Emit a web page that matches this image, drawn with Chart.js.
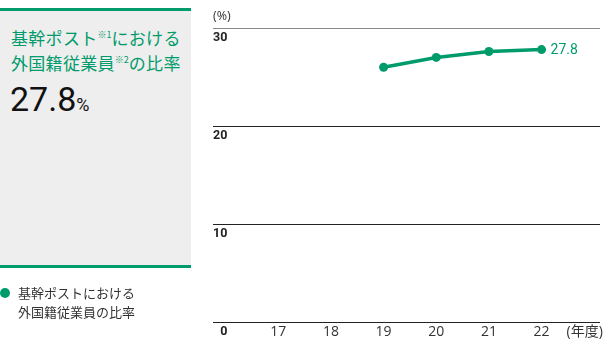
<!DOCTYPE html>
<html>
<head>
<meta charset="utf-8">
<script src="https://cdn.jsdelivr.net/npm/chart.js@4.4.0/dist/chart.umd.min.js"></script>
<style>
  html, body { margin: 0; padding: 0; background: #fff; }
  body { width: 614px; height: 342px; position: relative; overflow: hidden;
         font-family: "Noto Sans CJK JP", "Noto Sans", sans-serif; }
  #chart { position: absolute; left: 0; top: 0; }
  .panel { position: absolute; left: 0; top: 8px; width: 191px; height: 260px;
           background: #eeeeee; border-top: 3.5px solid #009b6b; border-bottom: 3.5px solid #009b6b;
           box-sizing: border-box; }
  .ttl { position: absolute; left: 11px; color: #009b6b; font-size: 17px; line-height: 20px;
         white-space: nowrap; letter-spacing: 0.3px; }
  .ttl sup { font-size: 9px; line-height: 0; vertical-align: 0; position: relative; top: -7px; letter-spacing: 0; }
  .big { position: absolute; left: 10px; top: 79px; color: #111; font-family: Roboto, sans-serif;
         font-size: 34px; line-height: 40px; white-space: nowrap; }
  .big span { font-size: 18px; }
  .legend { position: absolute; left: 0; top: 284px; font-size: 13px; line-height: 18.5px; color: #333; }
  .legend .dot { position: absolute; left: 0; top: 4px; width: 10px; height: 10px; border-radius: 50%;
                 background: #009b6b; }
  .legend .txt { position: absolute; left: 18px; top: 0; white-space: nowrap; }
  .unit { position: absolute; left: 213px; top: 7px; font-size: 12.5px; color: #333;
          font-family: "Open Sans", sans-serif; }
</style>
</head>
<body>
<canvas id="chart" width="614" height="342"></canvas>
<div class="panel"></div>
<div class="ttl" style="top:28px">基幹ポスト<sup>※1</sup>における</div>
<div class="ttl" style="top:53px">外国籍従業員<sup>※2</sup>の比率</div>
<div class="big">27.8<span>%</span></div>
<div class="legend"><div class="dot"></div><div class="txt">基幹ポストにおける<br>外国籍従業員の比率</div></div>
<div class="unit">(%)</div>
<script>
const years = [17, 18, 19, 20, 21, 22];
const yearLabels = ['17', '18', '19', '20', '21', '22'];
const rates = [null, null, 26.0, 27.0, 27.6, 27.8];
const yTicks = [0, 10, 20, 30];
const xUnitLabel = '(年度)';
const xUnitPos = 22.82;

const green = '#009b6b';

// value label next to the last point
const endLabel = {
  id: 'endLabel',
  afterDatasetsDraw(chart) {
    const meta = chart.getDatasetMeta(0);
    const i = rates.length - 1;
    const pt = meta.data[i];
    const c = chart.ctx;
    c.save();
    c.fillStyle = green;
    c.font = '14px Roboto, sans-serif';
    c.textAlign = 'left';
    c.textBaseline = 'middle';
    c.fillText(rates[i].toFixed(1), pt.x + 9, pt.y + 1);
    c.restore();
  }
};

new Chart(document.getElementById('chart').getContext('2d'), {
  type: 'line',
  data: {
    datasets: [{
      data: years.map((y, i) => ({ x: y, y: rates[i] })),
      borderColor: green,
      backgroundColor: green,
      borderWidth: 3.5,
      pointRadius: 4.5,
      pointHoverRadius: 4.5,
      pointBackgroundColor: green,
      pointBorderWidth: 0,
      spanGaps: false,
      tension: 0
    }]
  },
  options: {
    responsive: false,
    animation: false,
    devicePixelRatio: 1,
    layout: { padding: { left: 213, right: 14, top: 28, bottom: 1 } },
    plugins: { legend: { display: false }, tooltip: { enabled: false }, title: { display: false } },
    scales: {
      x: {
        type: 'linear',
        min: 15.76,
        max: 23.11,
        grid: { display: false, drawTicks: false },
        border: { display: false },
        afterBuildTicks: (axis) => {
          axis.ticks = years.map(v => ({ value: v })).concat([{ value: xUnitPos }]);
        },
        ticks: {
          autoSkip: false,
          maxRotation: 0,
          padding: 1,
          color: '#333',
          font: { family: '"Open Sans", "Noto Sans CJK JP", sans-serif', size: 14 },
          callback: (v, i) => i < yearLabels.length ? yearLabels[i] : xUnitLabel
        }
      },
      y: {
        min: 0,
        max: 30,
        afterBuildTicks: (axis) => { axis.ticks = yTicks.map(v => ({ value: v })); },
        grid: {
          drawTicks: false,
          color: (ctx) => ctx.tick && ctx.tick.value === 30 ? '#8a8a8a' : '#222',
          lineWidth: 1
        },
        border: { display: false },
        ticks: {
          mirror: true,
          crossAlign: 'far',
          padding: 0,
          labelOffset: 10,
          color: '#222',
          font: { family: 'Roboto, sans-serif', size: 12.5, weight: 'bold' }
        }
      }
    }
  },
  plugins: [endLabel]
});
</script>
</body>
</html>
